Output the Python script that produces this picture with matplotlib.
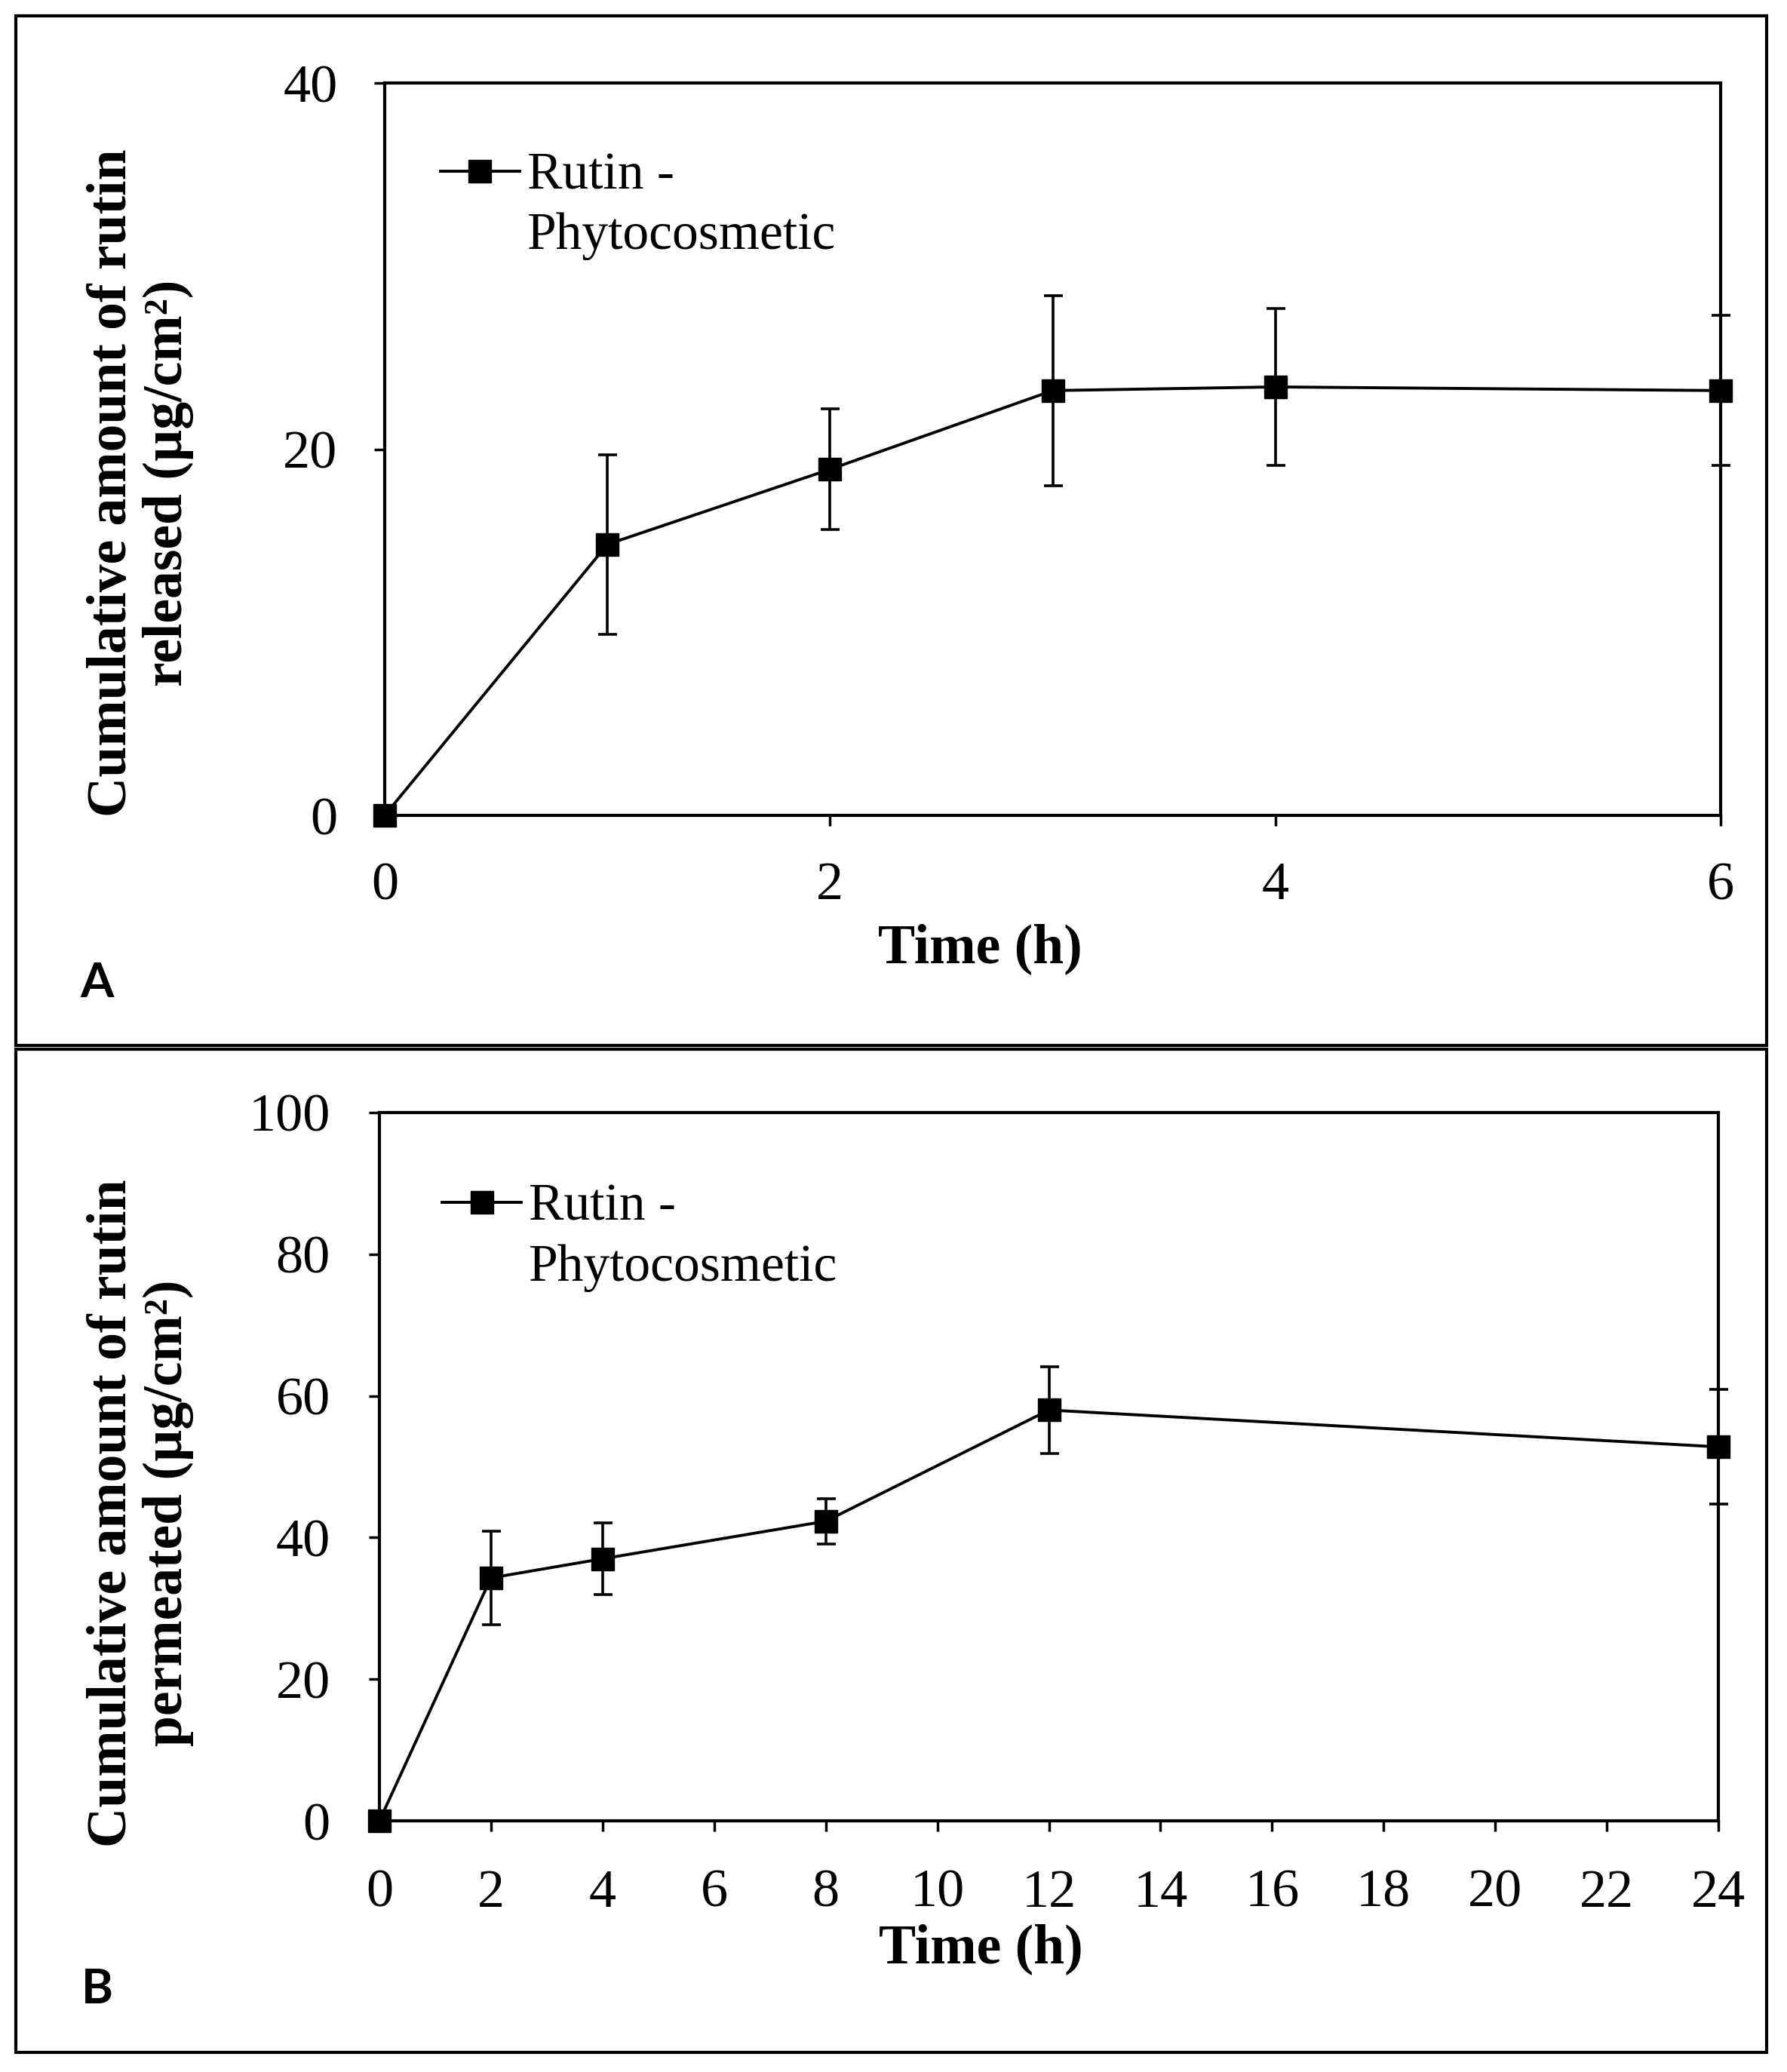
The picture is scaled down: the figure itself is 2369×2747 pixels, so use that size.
import matplotlib
matplotlib.use('Agg')
import matplotlib.pyplot as plt
from matplotlib.patches import Rectangle
from matplotlib.lines import Line2D

# data
time_a = [0, 1, 2, 3, 4, 6]
released = [0, 14.8, 18.9, 23.2, 23.4, 23.2]
released_sd = [0, 4.9, 3.3, 5.2, 4.3, 4.1]

time_b = [0, 2, 4, 8, 12, 24]
permeated = [0, 34.3, 37.0, 42.3, 58.0, 52.8]
permeated_sd = [0, 6.6, 5.1, 3.2, 6.1, 8.1]

xticks_a = [0, 2, 4, 6]
yticks_a = [0, 20, 40]
xticks_b = list(range(0, 25, 2))
yticks_b = [0, 20, 40, 60, 80, 100]

label_lines = ['Rutin -', 'Phytocosmetic']

W, H = 2369, 2747
plt.rcParams['font.family'] = ['Liberation Serif', 'DejaVu Serif']
fig = plt.figure(figsize=(W / 100, H / 100), dpi=100)


def fx(px):
    return px / W


def fy(px):
    return 1 - px / H


def draw_panel(ax, t, y, sd, xt, yt, ymax, xmax, ypad, xpad, xlab_pos, leg_pos):
    eb = ax.errorbar(t, y, yerr=sd, color='black', lw=2.8, marker='s', ms=21,
                     elinewidth=2.6, capsize=9, capthick=2.6)
    eb[0].set_clip_on(False)
    for c in eb[1]:
        c.set_clip_on(False)
    for c in eb[2]:
        c.set_clip_on(False)
    ax.set_xlim(0, xmax)
    ax.set_ylim(0, ymax)
    ax.set_xticks(xt)
    ax.set_yticks(yt)
    for s in ax.spines.values():
        s.set_linewidth(3)
    ax.tick_params(direction='out', length=10, width=2.5, labelsize=52)
    ax.tick_params(axis='y', pad=ypad)
    ax.tick_params(axis='x', pad=xpad)
    ax.set_xlabel('Time (h)', fontsize=53, fontweight='bold')
    ax.xaxis.set_label_coords(*xlab_pos)
    ax.xaxis.label.set_va('center')
    # legend: marker line next to the first line of the label
    blank = Line2D([], [], color='none')
    ax.legend([eb[0], blank], label_lines, loc='upper left', bbox_to_anchor=leg_pos,
              frameon=False, fontsize=50, handlelength=1.5, handletextpad=0.15,
              borderpad=0, borderaxespad=0, labelspacing=0.23)


# ---- panel A ----
axA = fig.add_axes([fx(510), fy(1081), fx(2281) - fx(510), fy(110) - fy(1081)])
draw_panel(axA, time_a, released, released_sd, xticks_a, yticks_a, 40, 6,
           35, 34, (0.446, (1081 - 1258) / 971), (0.042, 0.905))
fig.text(fx(186), fy(640), 'Cumulative amount of rutin\nreleased (µg/cm²)',
         rotation=90, ha='center', va='center', multialignment='center',
         fontsize=53, fontweight='bold', linespacing=1.1)

# ---- panel B ----
axB = fig.add_axes([fx(503), fy(2414), fx(2278) - fx(503), fy(1475) - fy(2414)])
draw_panel(axB, time_b, permeated, permeated_sd, xticks_b, yticks_b, 100, 24,
           37, 36, (0.449, (2414 - 2584) / 939), (0.047, 0.8995))
fig.text(fx(186), fy(2006), 'Cumulative amount of rutin\npermeated (µg/cm²)',
         rotation=90, ha='center', va='center', multialignment='center',
         fontsize=53, fontweight='bold', linespacing=1.1)

# panel letters
fig.text(fx(129), fy(1303), 'A', fontfamily='Lato', fontweight='bold', fontsize=46,
         ha='center', va='center')
fig.text(fx(129), fy(2637), 'B', fontfamily='Lato', fontweight='bold', fontsize=46,
         ha='center', va='center')

# frames around the two panels
for top, bot in [(21, 1386), (1391, 2721)]:
    fig.patches.append(Rectangle((fx(21), fy(bot)), fx(2342) - fx(21), fy(top) - fy(bot),
                                 transform=fig.transFigure, fill=False,
                                 edgecolor='black', lw=3))

fig.savefig('out.png', dpi=100, facecolor='white')
